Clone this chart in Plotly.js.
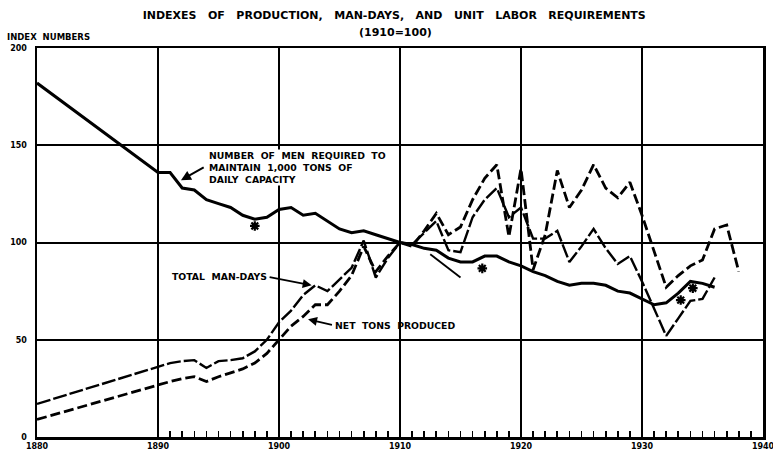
<!DOCTYPE html>
<html>
<head>
<meta charset="utf-8">
<script src="https://cdn.plot.ly/plotly-3.0.1.min.js"></script>
<style>body{margin:0;background:#fff}#chart{width:773px;height:450px}</style>
</head>
<body>
<div id="chart"></div>
<script>
// ---- data ----
const unitYears = [1880, 1890, 1891, 1892, 1893, 1894, 1895, 1896, 1897, 1898, 1899, 1900, 1901, 1902, 1903, 1904, 1905, 1906, 1907, 1908, 1909, 1910, 1911, 1912, 1913, 1914, 1915, 1916, 1917, 1918, 1919, 1920, 1921, 1922, 1923, 1924, 1925, 1926, 1927, 1928, 1929, 1930, 1931, 1932, 1933, 1934, 1935, 1936];
const menRequired = [182, 136, 136, 128, 127, 122, 120, 118, 114, 112, 113, 117, 118, 114, 115, 111, 107, 105, 106, 104, 102, 100, 99, 97, 96, 92, 90, 90, 93, 93, 90, 88, 85, 83, 80, 78, 79, 79, 78, 75, 74, 71, 68, 69, 74, 80, 79, 77];

const manDayYears = [1880, 1890, 1891, 1892, 1893, 1894, 1895, 1896, 1897, 1898, 1899, 1900, 1901, 1902, 1903, 1904, 1905, 1906, 1907, 1908, 1909, 1910, 1911, 1912, 1913, 1914, 1915, 1916, 1917, 1918, 1919, 1920, 1921, 1922, 1923, 1924, 1925, 1926, 1927, 1928, 1929, 1930, 1931, 1932, 1933, 1934, 1935, 1936];
const totalManDays = [17, 36, 38, 39, 39.5, 35.5, 39, 39.5, 40.5, 44, 50, 59, 65, 73, 78, 75, 81, 87, 101, 82, 92, 100, 99, 105, 111, 96, 95, 113, 122, 128, 113, 118, 102, 102, 106, 90, 98, 107, 97, 89, 93, 80, 66, 52, 61, 70, 71, 82];

const tonYears = [1880, 1890, 1891, 1892, 1893, 1894, 1895, 1896, 1897, 1898, 1899, 1900, 1901, 1902, 1903, 1904, 1905, 1906, 1907, 1908, 1909, 1910, 1911, 1912, 1913, 1914, 1915, 1916, 1917, 1918, 1919, 1920, 1921, 1922, 1923, 1924, 1925, 1926, 1927, 1928, 1929, 1930, 1931, 1932, 1933, 1934, 1935, 1936, 1937, 1938];
const netTons = [9, 27, 28.5, 30, 31, 28.5, 31, 33, 35, 38, 43, 50, 57, 62, 68, 68, 75, 83, 98, 85, 93, 100, 98, 106, 115, 104, 108, 122, 133, 140, 103, 138, 86, 104, 137, 118, 127, 140, 128, 123, 131, 114, 95, 77, 83, 88, 91, 107, 109, 85];

const shortLineYears = [1912.5, 1915];
const shortLineValues = [94, 82];

const asteriskYears = [1898, 1916.8, 1933.2, 1934.2];
const asteriskValues = [108.5, 86.7, 70.4, 76.5];

const yTicks = [0, 50, 100, 150, 200];
const xTicks = [1880, 1890, 1900, 1910, 1920, 1930, 1940];

const SP = "\u00a0\u00a0\u00a0";
const titleText = ["INDEXES", "OF", "PRODUCTION,", "MAN-DAYS,", "AND", "UNIT", "LABOR", "REQUIREMENTS"].join(SP);
const subtitleText = "(1910=100)";
const yLabelText = "INDEX\u00a0\u00a0NUMBERS";
const menLabel = "NUMBER\u00a0 OF\u00a0 MEN\u00a0 REQUIRED\u00a0 TO<br>MAINTAIN\u00a0 1,000\u00a0 TONS\u00a0 OF<br>DAILY\u00a0 CAPACITY";
const manDaysLabel = "TOTAL\u00a0 MAN-DAYS";
const tonsLabel = "NET\u00a0 TONS\u00a0 PRODUCED";

// ---- chart ----
const F = "DejaVu Sans, Arial, sans-serif";
const ink = "#000";

const traces = [
  {x: unitYears, y: menRequired, type: "scatter", mode: "lines",
   line: {color: ink, width: 3}, hoverinfo: "skip", showlegend: false},
  {x: manDayYears, y: totalManDays, type: "scatter", mode: "lines",
   line: {color: ink, width: 2.4, dash: "14px,3px"}, hoverinfo: "skip", showlegend: false},
  {x: tonYears, y: netTons, type: "scatter", mode: "lines",
   line: {color: ink, width: 2.8, dash: "10px,4px"}, hoverinfo: "skip", showlegend: false},
  {x: shortLineYears, y: shortLineValues, type: "scatter", mode: "lines",
   line: {color: ink, width: 1.8}, hoverinfo: "skip", showlegend: false},
  {x: asteriskYears, y: asteriskValues, type: "scatter", mode: "markers",
   marker: {symbol: "asterisk-open", size: 8, color: ink, line: {color: ink, width: 2.2}},
   hoverinfo: "skip", showlegend: false},
  // empty trace that makes the year-tick axis (x2) exist
  {x: [], y: [], type: "scatter", mode: "lines", xaxis: "x2", yaxis: "y",
   hoverinfo: "skip", showlegend: false}
];

const annFont = {family: F, size: 9.3, color: ink, weight: "bold"};

const layout = {
  width: 773, height: 450,
  margin: {l: 37, r: 10, t: 48, b: 13, pad: 0},
  paper_bgcolor: "#fff", plot_bgcolor: "rgba(0,0,0,0)",
  showlegend: false,
  title: {text: titleText, x: 0.51, xanchor: "center", y: 1 - 15/450, yanchor: "middle",
          font: {family: F, size: 11, color: ink, weight: "bold"}},
  xaxis: {
    range: [1880, 1940], tickvals: xTicks, ticktext: xTicks.map(String),
    showgrid: true, gridcolor: ink, gridwidth: 2,
    showline: true, linecolor: ink, linewidth: 2.5, mirror: true,
    zeroline: false, ticks: "", ticklabelstandoff: 0, ticklabeloverflow: "allow",
    tickfont: {family: F, size: 8, color: ink, weight: "bold"}
  },
  xaxis2: {
    range: [1890, 1940], domain: [1/6, 1], anchor: "y", dtick: 1, tick0: 1890,
    ticks: "inside", ticklen: 6, tickwidth: 1.6, tickcolor: ink,
    showticklabels: false, showgrid: false, showline: false, zeroline: false
  },
  yaxis: {
    range: [0, 200], tickvals: yTicks, ticktext: yTicks.map(String),
    showgrid: true, gridcolor: ink, gridwidth: 2,
    showline: true, linecolor: ink, linewidth: 2.5, mirror: true,
    zeroline: false, ticks: "", ticklabelstandoff: 6,
    tickfont: {family: F, size: 8, color: ink, weight: "bold"}
  },
  annotations: [
    {text: subtitleText, xref: "paper", yref: "paper", x: (395 - 37)/726, y: 1 + (48 - 32)/389,
     xanchor: "center", yanchor: "middle", showarrow: false,
     font: {family: F, size: 11, color: ink, weight: "bold"}},
    {text: yLabelText, xref: "paper", yref: "paper", x: -32/726, y: 1 + (48 - 37)/389,
     xanchor: "left", yanchor: "middle", showarrow: false,
     font: {family: F, size: 8.5, color: ink, weight: "bold"}},
    {text: menLabel, xref: "x", yref: "y", x: 1894.1, y: 138.5,
     xanchor: "left", yanchor: "middle", align: "left", showarrow: false,
     bgcolor: "#fff", borderpad: 0, font: annFont},
    {text: "", xref: "x", yref: "y", x: 1891.9, y: 132, axref: "x", ayref: "y", ax: 1893.9, ay: 139,
     showarrow: true, arrowhead: 2, arrowsize: 1, arrowwidth: 2, arrowcolor: ink},
    {text: manDaysLabel, xref: "x", yref: "y", x: 1891, y: 82.3,
     xanchor: "left", yanchor: "middle", showarrow: false, font: annFont},
    {text: "", xref: "x", yref: "y", x: 1902.7, y: 78, axref: "x", ayref: "y", ax: 1899.1, ay: 82.3,
     showarrow: true, arrowhead: 2, arrowsize: 1, arrowwidth: 1.8, arrowcolor: ink},
    {text: tonsLabel, xref: "x", yref: "y", x: 1904.5, y: 57.5,
     xanchor: "left", yanchor: "middle", showarrow: false, font: annFont},
    {text: "", xref: "x", yref: "y", x: 1902.4, y: 60.5, axref: "x", ayref: "y", ax: 1904.5, ay: 57.5,
     showarrow: true, arrowhead: 2, arrowsize: 1, arrowwidth: 1.8, arrowcolor: ink}
  ]
};

Plotly.newPlot("chart", traces, layout, {displayModeBar: false, staticPlot: true});
</script>
</body>
</html>
